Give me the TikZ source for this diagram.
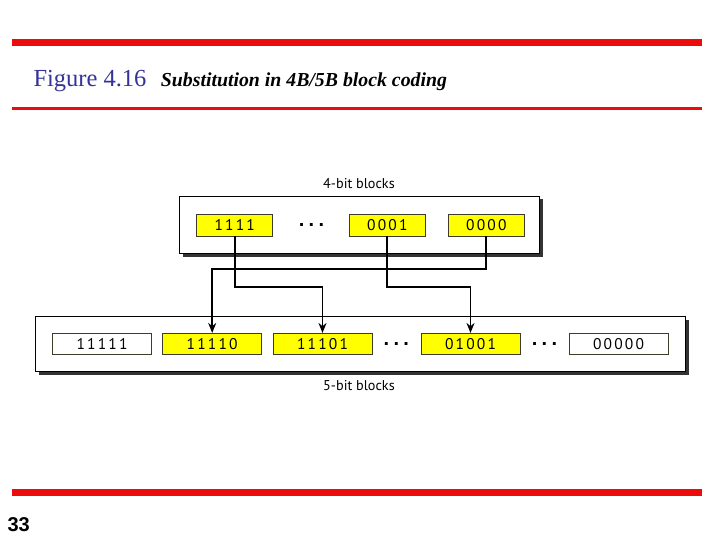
\documentclass[tikz,border=0pt]{standalone}
\usepackage{fontspec}
\setmainfont{Liberation Serif}
\setsansfont{PT Sans}
\newfontfamily\pagefont{Liberation Sans}
\usetikzlibrary{arrows.meta, shadows, calc}
\definecolor{slRed}{HTML}{EC0C0C}
\definecolor{slBlue}{HTML}{333399}
\definecolor{slYellow}{HTML}{FFFF00}
\definecolor{slEdge}{HTML}{3C3C28}
\tikzset{
  rule/.style       = {slRed, line width=#1},
  figtitle/.style   = {anchor=base west, inner sep=0pt, slBlue,
                       font=\fontsize{24.5}{24.5}\selectfont},
  figcaption/.style = {anchor=base west, inner sep=0pt,
                       font=\fontsize{19.8}{19.8}\selectfont\bfseries\itshape},
  pagenum/.style    = {anchor=base west, inner sep=0pt,
                       font=\fontsize{20}{20}\selectfont\pagefont\bfseries},
  frame/.style      = {draw=black, line width=0.9pt, fill=white,
                       drop shadow={shadow xshift=3.5pt, shadow yshift=-3.5pt,
                                    fill=black!80, opacity=1}},
  blocklbl/.style   = {font=\fontsize{14.2}{14.2}\selectfont\sffamily},
  quad/.style       = {draw=slEdge, line width=0.8pt, fill=slYellow,
                       minimum width=76pt, minimum height=21.7pt, inner sep=0pt,
                       font=\fontsize{15.5}{15.5}\selectfont\sffamily\addfontfeature{LetterSpace=14}},
  quint/.style      = {quad, fill=white, minimum width=99pt, minimum height=20.7pt},
  dots/.style       = {anchor=base, inner sep=0pt,
                       font=\fontsize{20}{20}\selectfont\pagefont\bfseries\addfontfeature{LetterSpace=22}},
  conn/.style       = {-{Stealth[length=10pt, width=8pt]}, line width=1.7pt, black},
}
\begin{document}
\begin{tikzpicture}[x=1pt, y=-1pt]
  \useasboundingbox (0,0) rectangle (720,540);
  % slide rules, caption and page number
  \draw[rule=6.4pt] (12,42.5) -- (702,42.5);
  \draw[rule=3.3pt] (12,108.3) -- (702,108.3);
  \draw[rule=6.4pt] (12,492.3) -- (702,492.3);
  \node[figtitle] (fignum) at (33.3,86.7) {Figure 4.16};
  \node[figcaption] (figcap) at (160.7,86.7) {Substitution in 4B/5B block coding};
  \node[pagenum] (page) at (7.3,531.7) {33};

  % the two frames
  \node[frame, minimum width=359.7pt, minimum height=57pt] (topframe) at (359.2,224.5) {};
  \node[frame, minimum width=650pt, minimum height=55pt] (botframe) at (360.7,343.5) {};
  \node[blocklbl] (toplbl) at (359,184) {4-bit blocks};
  \node[blocklbl] (botlbl) at (359,386) {5-bit blocks};

  % 4-bit blocks
  \node[quad] (q1111) at (234.7,225.2) {1111};
  \node[dots] (qdots) at (311.5,226.6) {...};
  \node[quad] (q0001) at (387.3,225.2) {0001};
  \node[quad] (q0000) at (486.3,225.2) {0000};

  % 5-bit blocks
  \node[quint] (c11111) at (102,343.7) {11111};
  \node[quint, fill=slYellow] (c11110) at (212.2,343.7) {11110};
  \node[quint, fill=slYellow] (c11101) at (322.5,343.7) {11101};
  \node[dots] (cdots1) at (396.3,345.1) {...};
  \node[quint, fill=slYellow] (c01001) at (470.5,343.7) {01001};
  \node[dots] (cdots2) at (544.5,345.1) {...};
  \node[quint] (c00000) at (618.5,343.7) {00000};

  % substitution paths
  \coordinate (lowlane) at (0,287.3);
  \coordinate (highlane) at (0,269.3);
  \draw[conn] (q0000.south) |- (highlane -| c11110) -- (c11110.north);
  \draw[conn] (q1111.south) |- (lowlane -| c11101) -- (c11101.north);
  \draw[conn] (q0001.south) |- (lowlane -| c01001) -- (c01001.north);
\end{tikzpicture}
\end{document}
